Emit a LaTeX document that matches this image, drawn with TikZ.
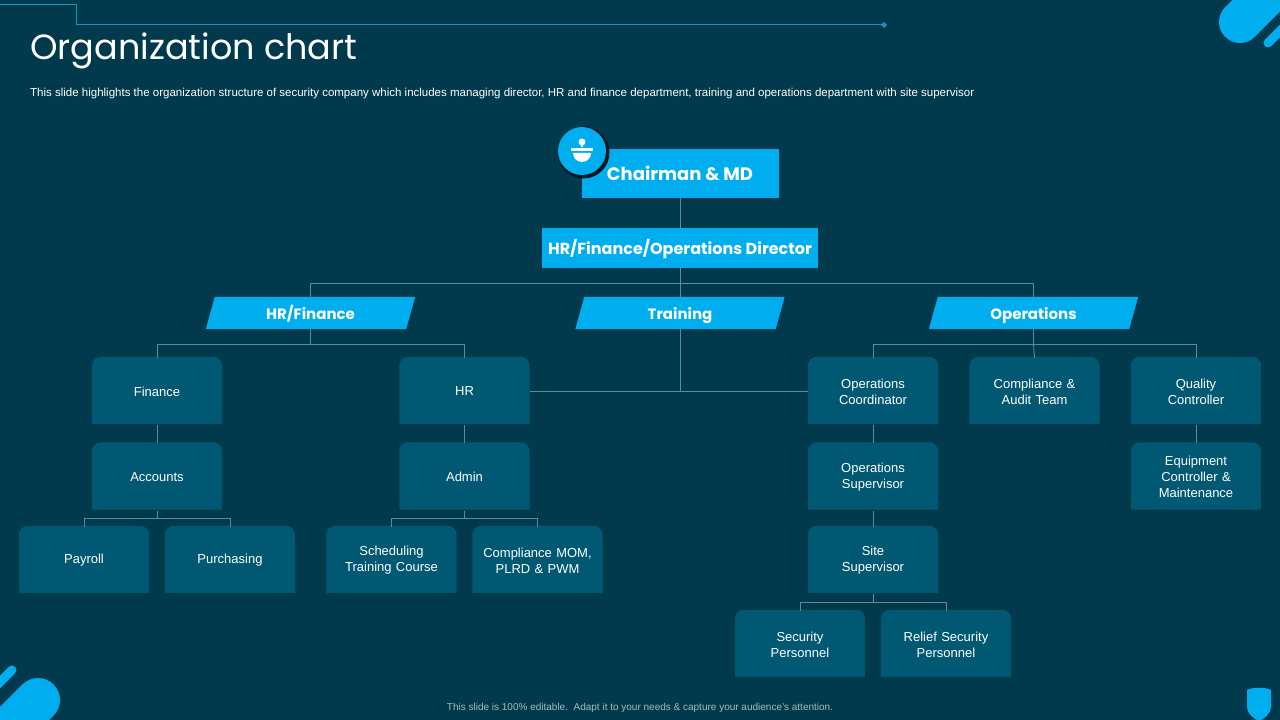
\documentclass[tikz,border=0pt]{standalone}
\usepackage{fontspec}
\setmainfont{Liberation Sans}
\newfontfamily\headfont{Poppins}
\usetikzlibrary{calc,positioning,backgrounds}
\definecolor{bgc}{HTML}{003A4C}
\definecolor{boxc}{HTML}{005873}
\definecolor{brightc}{HTML}{00AEEF}
\definecolor{linec}{HTML}{5E8C9B}
\definecolor{deco}{HTML}{1F8FBF}

\tikzset{
  unit/.style={minimum width=130,minimum height=67,yshift=-1,
    text width=126,align=center,text=white,font=\fontsize{13}{16}\selectfont,inner sep=0},
  topbox/.style={fill=brightc,minimum height=#1,text=white,inner sep=0,
    text height=15,text depth=1,font=\headfont\bfseries\fontsize{16}{20}\selectfont},
  dept/.style={minimum width=205,minimum height=32,text=white,inner sep=0,
    text height=14,text depth=1,font=\headfont\bfseries\fontsize{15}{18}\selectfont},
  link/.style={draw=linec,line width=0.9}
}

\begin{document}
\begin{tikzpicture}[x=1pt,y=1pt]
\useasboundingbox (0,0) rectangle (1280,720);

% top
\node[topbox=49,minimum width=197,font=\headfont\bfseries\fontsize{18}{22}\selectfont] (chair) at (680,546.5) {Chairman \& MD};
\node[topbox=40,minimum width=276] (dir) at (680,472) {HR/Finance/Operations Director};

% departments
\node[dept] (hrf) at (310.5,407) {HR/Finance};
\node[dept] (train) at (680,407) {Training};
\node[dept] (ops) at (1033.5,407) {Operations};

% units
\node[unit] (fin) at (157,329.5) {Finance};
\node[unit] (hr) at (464.5,329.5) {HR};
\node[unit] (opc) at (873,329.5) {Operations\\Coordinator};
\node[unit] (audit) at (1034.5,329.5) {Compliance \&\\Audit Team};
\node[unit] (qual) at (1196,329.5) {Quality\\Controller};

\node[unit] (acc) at (157,244) {Accounts};
\node[unit] (admin) at (464.5,244) {Admin};
\node[unit] (ops2) at (873,244) {Operations\\Supervisor};
\node[unit] (equip) at (1196,244) {Equipment\\Controller \&\\Maintenance};

\node[unit] (pay) at (84,160.5) {Payroll};
\node[unit] (purch) at (230,160.5) {Purchasing};
\node[unit] (sched) at (391.5,160.5) {Scheduling\\Training Course};
\node[unit] (mom) at (537.5,160.5) {Compliance MOM,\\PLRD \& PWM};
\node[unit] (site) at (873,160.5) {Site\\Supervisor};

\node[unit] (sec) at (800,76.5) {Security\\Personnel};
\node[unit] (relief) at (946,76.5) {Relief Security\\Personnel};

% connectors
\draw[link] (chair) -- (dir);
\draw[link] (dir.south) -- ++(0,-15) coordinate (bus);
\draw[link] (hrf.north) |- (bus) -| (ops.north);
\draw[link] (bus) -- (train.north);
\draw[link] (train.south) -- (train.south |- hr.east);
\draw[link] (hr.east) -- (opc.west);
\draw[link] (hrf.south) -- ++(0,-15) coordinate (hfbus);
\draw[link] (fin.north) |- (hfbus) -| (hr.north);
\draw[link] (ops.south) -- ++(0,-15) coordinate (opbus);
\draw[link] (opc.north) |- (opbus) -| (qual.north);
\draw[link] (opbus) -- (audit.north);
\foreach \a/\b in {fin/acc,hr/admin,opc/ops2,ops2/site,qual/equip}
  \draw[link] (\a) -- (\b);
\foreach \p/\l/\r in {acc/pay/purch,admin/sched/mom,site/sec/relief}{
  \draw[link] (\p.south) -- ++(0,-8) coordinate (\p bus);
  \draw[link] (\l.north) |- (\p bus) -| (\r.north);
}

% icon
\node[circle,fill=black!60!bgc,minimum size=52] (iconbg) at (583.5,567.5) {};
\node[circle,fill=brightc,minimum size=48] (icon) at (582,569) {};
\fill[white] ($(icon)+(0,9)$) circle (3.5);
\fill[white] ($(icon)+(-9,-2)$) arc (180:360:9) -- cycle;
\fill[white] ($(icon)+(-11,0)$) rectangle ($(icon)+(11,3)$);
\fill[white] ($(icon)+(-1,4)$) rectangle ($(icon)+(1,6)$);

% title
\node[anchor=west,text=white,font=\headfont\fontsize{35}{40}\selectfont,inner sep=0] (title) at (30,669) {Organization chart};
\node[anchor=west,text=white,font=\fontsize{11.5}{13}\selectfont,inner sep=0] (sub) at (30,626) {This slide highlights the organization structure of security company which includes managing director, HR and finance department, training and operations department with site supervisor};
\node[text=white!65!bgc,font=\fontsize{10}{11}\selectfont,inner sep=0] (foot) at (640,12) {This slide is 100\% editable.\ \ Adapt it to your needs \& capture your audience's attention.};

% decorations
\draw[deco,line width=1] (0,715) -- (76,715) -- (76,695) -- (884,695);
\fill[deco] (884,698) -- (887,695) -- (884,692) -- (881,695) -- cycle;
\draw[brightc,line width=42,line cap=round] (1240,698) -- (1290,748);
\draw[brightc,line width=9,line cap=round] (1268,677) -- (1290,699);
\draw[brightc,line width=44,line cap=round] (38,20) -- (-10,-28);
\draw[brightc,line width=9,line cap=round] (12,50) -- (-10,28);
\fill[brightc] (1247,30) -- (1247,13) .. controls (1248,4) and (1255,1) .. (1259,-1)
  .. controls (1263,1) and (1270,4) .. (1271,13) -- (1271,30) .. controls (1265,33) and (1253,33) .. (1247,30) -- cycle;

\begin{scope}[on background layer]
\fill[bgc] (0,0) rectangle (1280,720);
\foreach \n in {fin,hr,opc,audit,qual,acc,admin,ops2,equip,pay,purch,sched,mom,site,sec,relief}
  \fill[boxc] ([yshift=1]\n.south west) [rounded corners=9] -- ([yshift=1]\n.north west) -- ([yshift=1]\n.north east)
    [sharp corners] -- ([yshift=1]\n.south east) -- cycle;
\foreach \n in {hrf,train,ops}
  \fill[brightc] ($(\n.south west)+(-2,0)$) -- ($(\n.south east)+(-7,0)$)
    -- ($(\n.north east)+(2,0)$) -- ($(\n.north west)+(7,0)$) -- cycle;
\end{scope}
\end{tikzpicture}
\end{document}
